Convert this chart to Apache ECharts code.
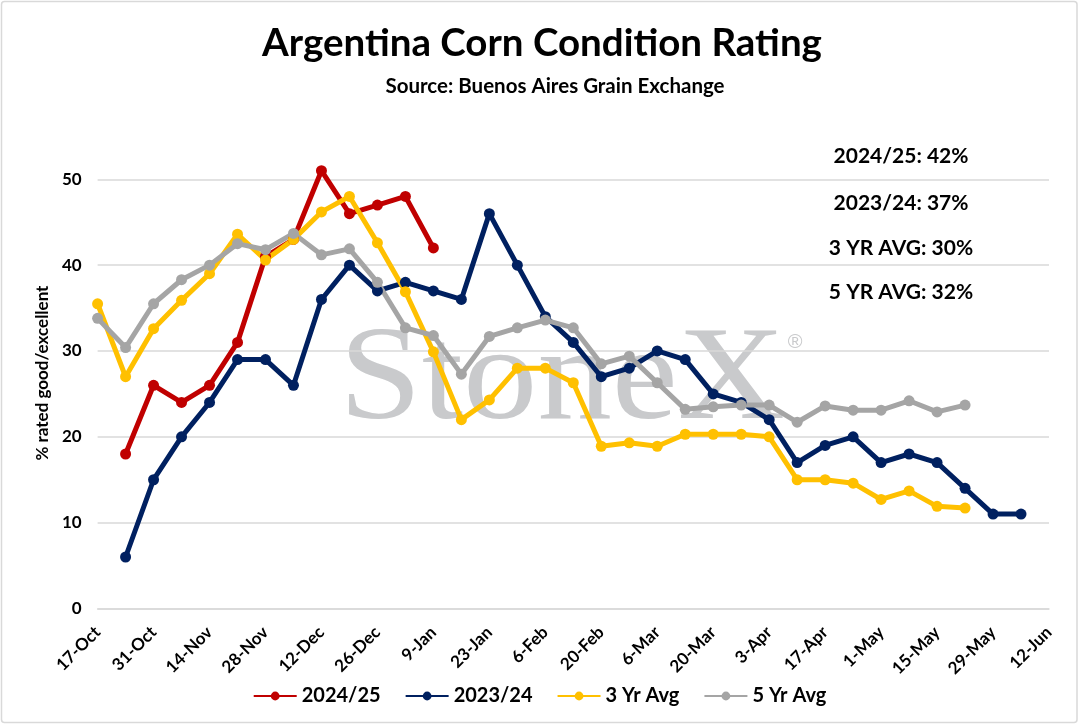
<!DOCTYPE html>
<html>
<head>
<meta charset="utf-8">
<script src="https://cdn.jsdelivr.net/npm/echarts@6/dist/echarts.min.js"></script>
<style>
html,body{margin:0;padding:0;background:#fff;}
#chart{width:1079px;height:725px;}
</style>
</head>
<body>
<div id="chart"></div>
<script>
// Weekly categories (17-Oct .. 12-Jun)
const categories = ['17-Oct','24-Oct','31-Oct','7-Nov','14-Nov','21-Nov','28-Nov','5-Dec','12-Dec','19-Dec','26-Dec','2-Jan','9-Jan','16-Jan','23-Jan','30-Jan','6-Feb','13-Feb','20-Feb','27-Feb','6-Mar','13-Mar','20-Mar','27-Mar','3-Apr','10-Apr','17-Apr','24-Apr','1-May','8-May','15-May','22-May','29-May','5-Jun','12-Jun'];

const s2024_25 = [null,18,26,24,26,31,41,43,51,46,47,48,42];
const s2023_24 = [null,6,15,20,24,29,29,26,36,40,37,38,37,36,46,40,34,31,27,28,30,29,25,24,22,17,19,20,17,18,17,14,11,11];
const avg3yr = [35.5,27.0,32.6,35.9,39.0,43.6,40.6,43.0,46.2,48.0,42.6,36.9,29.9,22.0,24.3,28.0,28.0,26.3,18.9,19.3,18.9,20.3,20.3,20.3,20.0,15.0,15.0,14.6,12.7,13.7,11.9,11.7];
const avg5yr = [33.8,30.4,35.5,38.3,40.0,42.5,41.8,43.7,41.2,41.9,38.0,32.7,31.8,27.3,31.7,32.7,33.6,32.7,28.5,29.4,26.3,23.2,23.5,23.7,23.7,21.7,23.6,23.1,23.1,24.2,22.9,23.7];

const seriesNames = ['2024/25','2023/24','3 Yr Avg','5 Yr Avg'];
const seriesColors = ['#C00000','#002060','#FFC000','#A5A5A5'];
const annotations = ['2024/25: 42%','2023/24: 37%','3 YR AVG: 30%','5 YR AVG: 32%'];
const yTicks = {min:0, max:50, interval:10};

const FONT = 'Lato, "Open Sans", sans-serif';
const chart = echarts.init(document.getElementById('chart'), null, {renderer:'canvas'});

function mkSeries(name, data, color){
  return {
    name, type:'line', data, color,
    symbol:'circle', symbolSize:11, showSymbol:true,
    lineStyle:{width:5, color},
    itemStyle:{color},
    clip:false, connectNulls:false,
    emphasis:{disabled:true}
  };
}

const annY = [156, 203, 248, 292];

chart.setOption({
  animation:false,
  backgroundColor:'#ffffff',
  title:[
    {text:'Argentina Corn Condition Rating', left:537, top:19, textAlign:'center',
     textStyle:{fontFamily:FONT, fontSize:38.5, fontWeight:'bold', color:'#000'}},
    {text:'Source: Buenos Aires Grain Exchange', left:550, top:71, textAlign:'center',
     textStyle:{fontFamily:FONT, fontSize:20.5, fontWeight:'bold', color:'#000'}}
  ],
  grid:{left:97.6, right:30, top:179.3, bottom:116.5, containLabel:false},
  legend:{
    data:seriesNames, top:681, left:'center',
    itemWidth:43, itemHeight:11, itemGap:24,
    textStyle:{fontFamily:FONT, fontSize:20, fontWeight:'bold', color:'#000'}
  },
  xAxis:{
    type:'category', data:categories, boundaryGap:false,
    axisLine:{show:true, lineStyle:{color:'#D9D9D9', width:1.5}},
    axisTick:{show:false},
    axisLabel:{interval:1, rotate:45, margin:21, fontFamily:FONT, fontSize:17, fontWeight:'bold', color:'#000'},
    splitLine:{show:false}
  },
  yAxis:{
    type:'value', min:yTicks.min, max:yTicks.max, interval:yTicks.interval,
    axisLine:{show:false}, axisTick:{show:false},
    axisLabel:{margin:16, fontFamily:FONT, fontSize:17, fontWeight:'bold', color:'#000'},
    splitLine:{show:true, lineStyle:{color:'#D9D9D9', width:1.5}}
  },
  graphic:[
    {type:'rect', silent:true, z:-10, shape:{x:1.5, y:1.5, width:1075.5, height:721, r:3},
     style:{fill:null, stroke:'#D9D9D9', lineWidth:1.5}},
    {type:'text', silent:true, z:0, x:339, y:383, scaleX:1.11,
     style:{text:'StoneX', fontFamily:'"Liberation Serif", "DejaVu Serif", serif', fontSize:134,
            fill:'#C9CACC', textAlign:'left', textVerticalAlign:'middle'}},
    {type:'text', silent:true, z:0, x:795, y:342,
     style:{text:'®', fontFamily:'"Liberation Sans", sans-serif', fontSize:20,
            fill:'#C9CACC', textAlign:'center', textVerticalAlign:'middle'}},
    {type:'text', silent:true, z:10, x:43, y:373, rotation:Math.PI/2,
     style:{text:'% rated good/excellent', fontFamily:FONT, fontSize:17, fontWeight:'bold', fill:'#000',
            textAlign:'center', textVerticalAlign:'middle'}}
  ].concat(annotations.map((t,i)=>({
    type:'text', silent:true, z:10, x:901, y:annY[i],
    style:{text:t, fontFamily:FONT, fontSize:21, fontWeight:'bold', fill:'#000',
           textAlign:'center', textVerticalAlign:'middle'}
  }))),
  series:[
    mkSeries(seriesNames[0], s2024_25, seriesColors[0]),
    mkSeries(seriesNames[1], s2023_24, seriesColors[1]),
    mkSeries(seriesNames[2], avg3yr, seriesColors[2]),
    mkSeries(seriesNames[3], avg5yr, seriesColors[3])
  ]
});
</script>
</body>
</html>
